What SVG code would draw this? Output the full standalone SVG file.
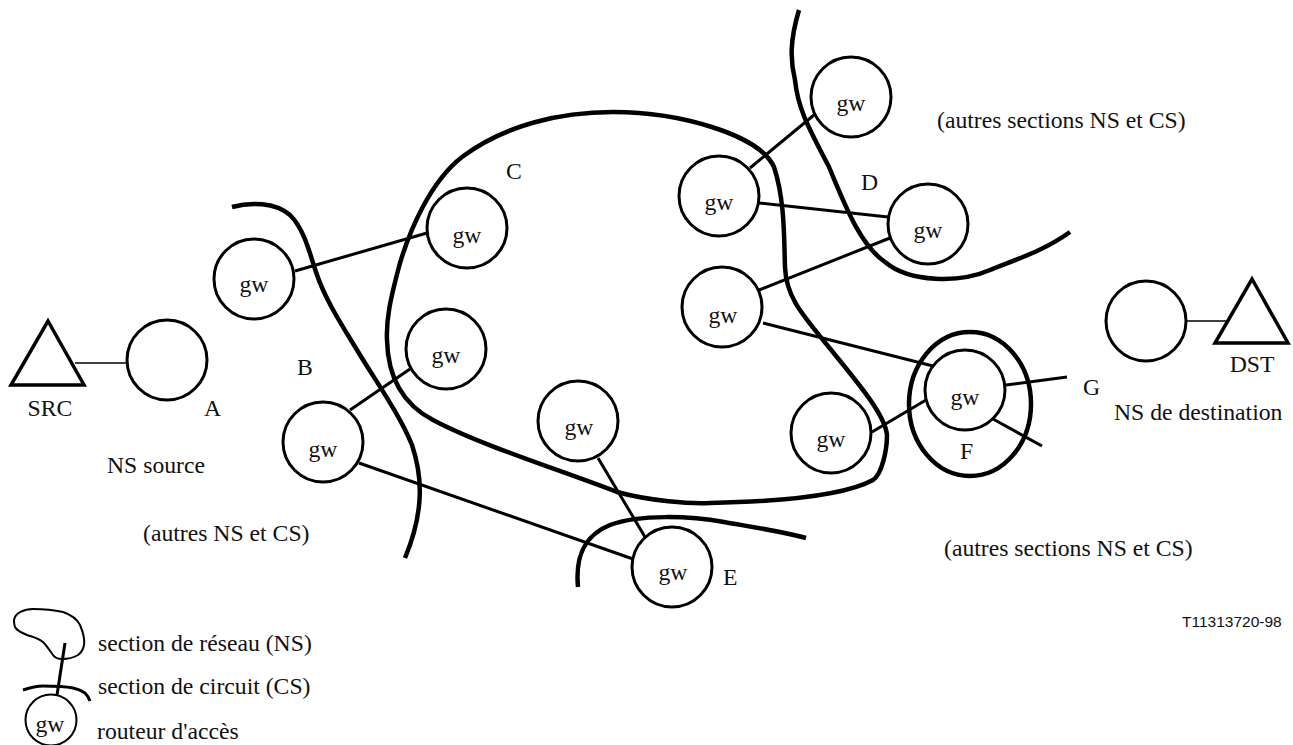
<svg xmlns="http://www.w3.org/2000/svg" width="1293" height="745" viewBox="0 0 1293 745">
<style>
text{font-family:"Liberation Serif","Times New Roman",serif;font-size:23.7px;fill:#111}
.c{text-anchor:middle}
text.s{font-family:"Liberation Sans",Arial,sans-serif;font-size:15.5px}
circle{fill:none;stroke:#000;stroke-width:3}
.tri{fill:none;stroke:#000;stroke-width:3.5}
.l{fill:none;stroke:#000;stroke-width:3}
.t{fill:none;stroke:#000;stroke-width:1.5}
.b{fill:none;stroke:#000;stroke-width:4.5;stroke-linejoin:round}
</style>
<g id="sections">
<path class="b" d="M799 10C790 40 790 60 795 80C798 110 810 130 829 167C845 205 860 245 885 262C910 283 960 283 990 270C1020 258 1045 250 1070 232"/>
<path class="b" d="M232 207C250 202 275 202 290 215C305 230 310 255 316 272C325 300 345 330 357 350C375 380 400 415 412 445C422 475 425 510 405 558"/>
<path class="b" d="M578 587C575 555 585 535 610 525C640 514 690 516 724 522C752 527 780 531 806 538"/>
<path class="b" d="M613 112C560 112 505 125 462 157C430 182 410 230 400 263C390 300 386 320 387 340C388 385 410 408 433 420C480 445 560 470 617 492C650 501 690 504 710 503C760 502 840 498 873 480C882 474 887 450 887 435C885 415 860 385 823 340C800 312 786 295 785 267C784 240 785 200 774 167C760 135 680 112 613 112Z"/>
<ellipse class="b" cx="970" cy="404" rx="61" ry="72"/>
</g>
<g id="connectors">
<path class="t" d="M75 363H127"/>
<path class="t" d="M1187 321H1227"/>
<path class="l" d="M295 271L427 233"/>
<path class="l" d="M350 410L410 369"/>
<path class="l" d="M359 463L633 559"/>
<path class="l" d="M598 458L645 537"/>
<path class="l" d="M750 168L814 115"/>
<path class="l" d="M759 203L888 217"/>
<path class="l" d="M759 290L890 238"/>
<path class="l" d="M763 323L933 366"/>
<path class="l" d="M872 432L926 400"/>
<path class="l" d="M1006 385L1067 377"/>
<path class="l" d="M993 419L1042 446"/>
</g>
<g id="src"><path class="tri" d="M48 321L84 385H11Z"/><text class="c" x="50" y="416">SRC</text></g>
<g id="dst"><path class="tri" d="M1252 279L1288 343H1215Z"/><text class="c" x="1252" y="372">DST</text></g>
<g id="node-a"><circle cx="167" cy="360" r="40"/></g>
<g id="node-dst-ns"><circle cx="1146" cy="321" r="40"/></g>
<g id="gw1"><circle cx="254" cy="279" r="40"/><text class="c" x="254" y="292">gw</text></g>
<g id="gw2"><circle cx="467" cy="228" r="40"/><text class="c" x="467" y="243">gw</text></g>
<g id="gw3"><circle cx="446" cy="349" r="40"/><text class="c" x="446" y="363">gw</text></g>
<g id="gw4"><circle cx="323" cy="442" r="40"/><text class="c" x="323" y="457">gw</text></g>
<g id="gw5"><circle cx="578" cy="421" r="40"/><text class="c" x="579" y="435">gw</text></g>
<g id="gw6"><circle cx="672" cy="567" r="40"/><text class="c" x="673" y="580">gw</text></g>
<g id="gw7"><circle cx="851" cy="97" r="40"/><text class="c" x="851" y="111">gw</text></g>
<g id="gw8"><circle cx="719" cy="196" r="40"/><text class="c" x="719" y="210">gw</text></g>
<g id="gw9"><circle cx="928" cy="224" r="40"/><text class="c" x="928" y="238">gw</text></g>
<g id="gw10"><circle cx="722" cy="307" r="40"/><text class="c" x="723" y="323">gw</text></g>
<g id="gw11"><circle cx="831" cy="433" r="40"/><text class="c" x="831" y="447">gw</text></g>
<g id="gw12"><circle cx="965" cy="390" r="40"/><text class="c" x="965" y="405">gw</text></g>
<g id="labels">
<text x="204" y="416">A</text><text x="297" y="375">B</text><text x="506" y="179">C</text><text x="861" y="190">D</text><text x="723" y="585">E</text><text x="960" y="459">F</text><text x="1083" y="395">G</text>
<text x="107" y="473">NS source</text>
<text x="143" y="541">(autres NS et CS)</text>
<text x="937" y="128">(autres sections NS et CS)</text>
<text x="944" y="556">(autres sections NS et CS)</text>
<text x="1114" y="420">NS de destination</text>
<text class="s" x="1182" y="627">T11313720-98</text>
</g>
<g id="legend">
<path class="t" style="stroke-width:2" d="M14 620C15 613 24 609 33 609C44 609 54 610 63 612C72 615 77 619 80 625C83 632 85 639 84 645C83 650 81 653 78 655C73 658 67 659 62 659C58 659 55 658 53 655C50 651 47 646 43 642C38 638 33 637 27 635C22 633 17 631 15 627C14 625 14 622 14 620Z"/>
<path class="l" d="M65 643L57 695"/>
<path class="l" d="M23 690C29 688 36 686 43 686C53 686 63 686 73 688C78 689 82 691 85 693C87 695 89 698 90 701"/>
<circle cx="51" cy="720" r="25.5" style="stroke-width:2"/>
<text class="c" x="50" y="732">gw</text>
<text x="98" y="651">section de réseau (NS)</text>
<text x="98" y="694">section de circuit (CS)</text>
<text x="97" y="739">routeur d'accès</text>
</g>
</svg>
